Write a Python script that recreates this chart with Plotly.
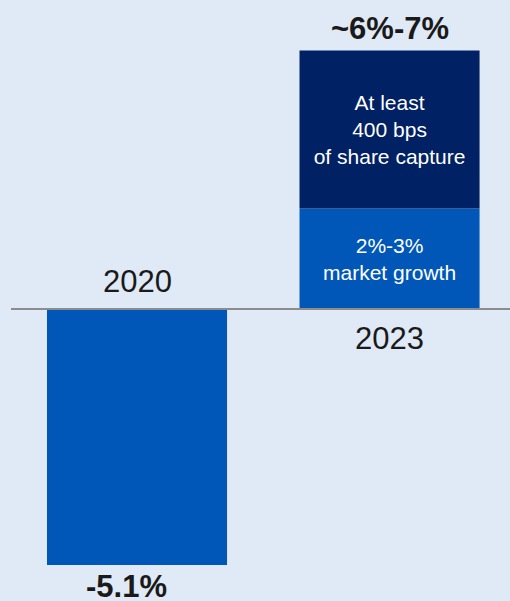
import plotly.graph_objects as go

# Revenue growth bridge: 2020 decline vs. 2023 target build-up
years = ["2020", "2023"]
growth_2020 = [-5.1, None]
market_growth = [None, 2.0]
share_capture = [None, 3.15]
value_labels = ["-5.1%", "~6%-7%"]
segment_text_market = "2%-3%<br>market growth"
segment_text_share = "At least<br>400 bps<br>of share capture"

BG = "#e0eaf6"
BLUE = "#0057b8"
NAVY = "#002163"
INK = "#1a1a1a"
FONT = "Arial, Liberation Sans, sans-serif"

fig = go.Figure()

fig.add_trace(go.Bar(
    x=years, y=growth_2020, marker=dict(color=BLUE, line=dict(width=0)),
    width=0.713, hoverinfo="skip",
))
fig.add_trace(go.Bar(
    x=years, y=market_growth, marker=dict(color=BLUE, line=dict(width=0)),
    width=0.713, text=[None, segment_text_market], textposition="inside",
    insidetextanchor="middle", textangle=0,
    textfont=dict(color="white", size=21, family=FONT), hoverinfo="skip",
))
fig.add_trace(go.Bar(
    x=years, y=share_capture, marker=dict(color=NAVY, line=dict(width=0)),
    width=0.713, text=[None, segment_text_share], textposition="inside",
    insidetextanchor="middle", textangle=0,
    textfont=dict(color="white", size=21, family=FONT), hoverinfo="skip",
))

# Category labels sit on the opposite side of the baseline from each bar
fig.add_annotation(x=0, y=0, xref="x", yref="y", text=years[0], showarrow=False,
                   yanchor="bottom", yshift=8,
                   font=dict(size=31, color=INK, family=FONT))
fig.add_annotation(x=1, y=0, xref="x", yref="y", text=years[1], showarrow=False,
                   yanchor="top", yshift=-10,
                   font=dict(size=31, color=INK, family=FONT))

# Value labels at the bar ends
fig.add_annotation(x=0, y=growth_2020[0], xref="x", yref="y",
                   text="<b>" + value_labels[0] + "</b>",
                   showarrow=False, yanchor="top", yshift=-2, xshift=-11,
                   font=dict(size=31, color=INK, family=FONT))
fig.add_annotation(x=1, y=market_growth[1] + share_capture[1], xref="x", yref="y",
                   text="<b>" + value_labels[1] + "</b>",
                   showarrow=False, yanchor="bottom", yshift=2,
                   font=dict(size=31, color=INK, family=FONT))

# Zero baseline
fig.add_shape(type="line", xref="paper", yref="y", x0=0.0216, x1=1, y0=0, y1=0,
              line=dict(color="#8c8c8c", width=2), layer="above")

hidden = dict(showticklabels=False, showline=False, showgrid=False,
              zeroline=False, ticks="", fixedrange=True)

fig.update_layout(
    width=510, height=601,
    margin=dict(l=0, r=0, t=0, b=0),
    paper_bgcolor=BG, plot_bgcolor=BG,
    barmode="relative", showlegend=False,
    uniformtext=dict(minsize=21, mode="show"),
    xaxis=dict(type="category", range=[-0.5426, 1.477], **hidden),
    yaxis=dict(range=[-5.817, 6.155], **hidden),
)

fig.write_html("out.html")
